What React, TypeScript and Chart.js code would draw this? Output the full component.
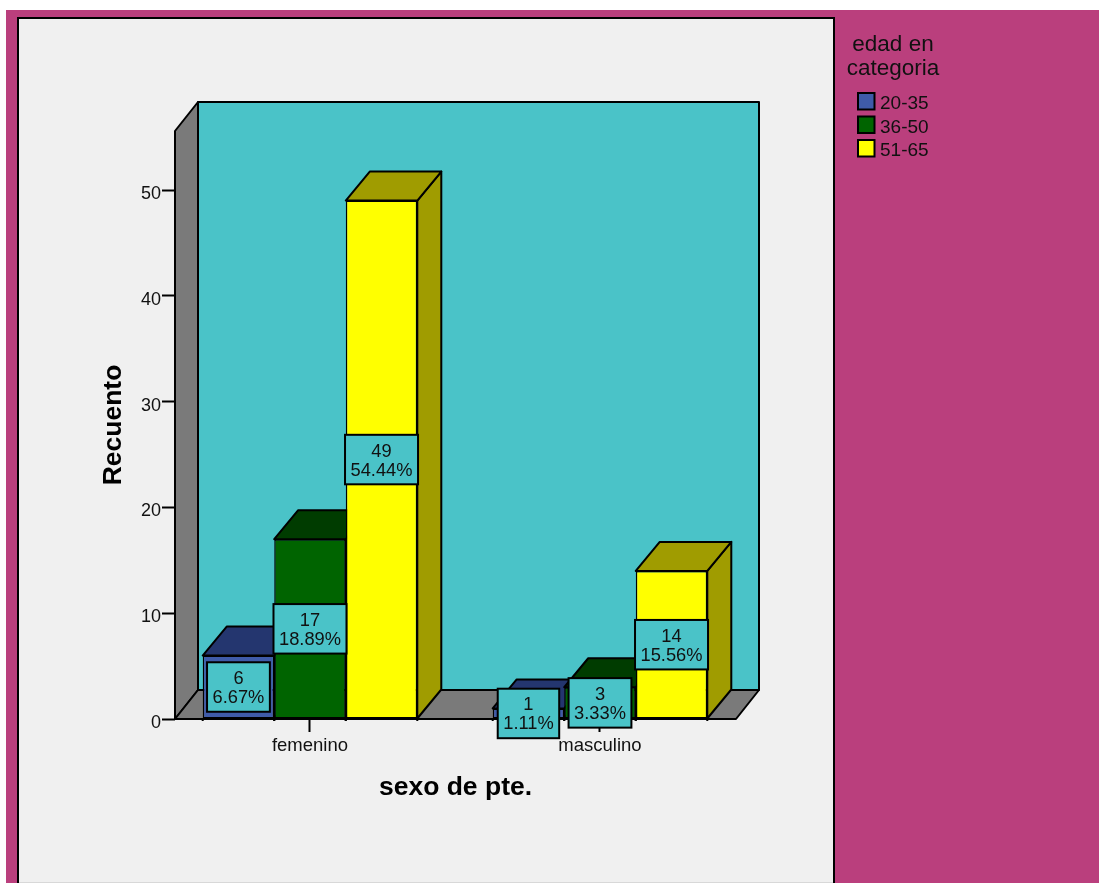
import React, { useEffect, useRef } from "react";
import { Chart, registerables } from "chart.js";

Chart.register(...registerables);

const WIDTH = 1099;
const HEIGHT = 883;
const FONT = '"Liberation Sans", Arial, sans-serif';

const categories = ["femenino", "masculino"];
const edad2035 = [6, 1];
const edad3650 = [17, 3];
const edad5165 = [49, 14];
const seriesLabels = ["20-35", "36-50", "51-65"];
const seriesValues = [edad2035, edad3650, edad5165];
const frontColors = ["#3F5BA9", "#006400", "#FFFF00"];
const shadeColors = ["#24366F", "#003C00", "#A09C00"];
const legendTitle = ["edad en", "categoria"];
const total = 90;

const DEPTH_X = 24;
const DEPTH_Y = 29;
const INK = "#000000";
const TEAL = "#4AC3C8";
const WALL = "#7A7A7A";

function poly(ctx: CanvasRenderingContext2D, pts: number[][], fill: string) {
  ctx.beginPath();
  pts.forEach(([x, y], i) => (i ? ctx.lineTo(x, y) : ctx.moveTo(x, y)));
  ctx.closePath();
  ctx.fillStyle = fill;
  ctx.fill();
  ctx.lineWidth = 2;
  ctx.lineJoin = "round";
  ctx.strokeStyle = INK;
  ctx.stroke();
}

// Page backdrop, inner panel and the legend at the side
const backdrop = {
  id: "backdrop",
  beforeDraw(chart: any) {
    const ctx = chart.ctx as CanvasRenderingContext2D;
    ctx.save();
    ctx.fillStyle = "#FFFFFF";
    ctx.fillRect(0, 0, WIDTH, HEIGHT);
    ctx.fillStyle = "#BA3F7D";
    ctx.fillRect(6, 10, WIDTH - 6, HEIGHT - 10);
    ctx.fillStyle = "#F0F0F0";
    ctx.fillRect(18, 18, 816, HEIGHT - 18);
    ctx.strokeStyle = INK;
    ctx.lineWidth = 2;
    ctx.beginPath();
    ctx.moveTo(18, HEIGHT);
    ctx.lineTo(18, 18);
    ctx.lineTo(834, 18);
    ctx.lineTo(834, HEIGHT);
    ctx.stroke();
    ctx.fillStyle = "#D8D8D8";
    ctx.fillRect(19, HEIGHT - 1, 814, 1);

    ctx.fillStyle = "#111111";
    ctx.textBaseline = "middle";
    ctx.textAlign = "center";
    ctx.font = `22.5px ${FONT}`;
    legendTitle.forEach((line, i) => ctx.fillText(line, 893, 45 + i * 24));
    ctx.textAlign = "left";
    ctx.font = `19px ${FONT}`;
    chart.data.datasets.forEach((ds: any, i: number) => {
      const top = 93 + i * 23.5;
      ctx.fillStyle = ds.backgroundColor;
      ctx.strokeStyle = INK;
      ctx.fillRect(858, top, 16.5, 16.5);
      ctx.strokeRect(858, top, 16.5, 16.5);
      ctx.fillStyle = "#111111";
      ctx.fillText(ds.label, 880, top + 11);
    });
    ctx.restore();
  },
};

// Back wall, side wall and floor of the 3D box, then the bars from left to
// right so that each front face covers the extruded side of its neighbour
const box3d = {
  id: "box3d",
  beforeDatasetsDraw(chart: any) {
    const ctx = chart.ctx as CanvasRenderingContext2D;
    const { left, right, top, bottom } = chart.chartArea;
    ctx.save();
    poly(ctx, [[left + DEPTH_X - 1, top - DEPTH_Y], [right + DEPTH_X - 1, top - DEPTH_Y], [right + DEPTH_X - 1, bottom - DEPTH_Y], [left + DEPTH_X - 1, bottom - DEPTH_Y]], TEAL);
    poly(ctx, [[left, top], [left + DEPTH_X - 1, top - DEPTH_Y], [left + DEPTH_X - 1, bottom - DEPTH_Y], [left, bottom]], WALL);
    poly(ctx, [[left, bottom], [left + DEPTH_X - 1, bottom - DEPTH_Y], [right + DEPTH_X - 1, bottom - DEPTH_Y], [right, bottom]], WALL);
    chart.data.datasets.forEach((_: any, di: number) => {
      chart.getDatasetMeta(di).data.forEach((bar: any) => {
        const l = bar.x - bar.width / 2;
        const r = bar.x + bar.width / 2;
        poly(ctx, [[r, bar.y], [r + DEPTH_X, bar.y - DEPTH_Y], [r + DEPTH_X, bar.base - DEPTH_Y], [r, bar.base]], shadeColors[di]);
        poly(ctx, [[l, bar.y], [l + DEPTH_X, bar.y - DEPTH_Y], [r + DEPTH_X, bar.y - DEPTH_Y], [r, bar.y]], shadeColors[di]);
        bar.draw(ctx);
      });
    });
    ctx.restore();
  },
  // The loop above has already painted every bar
  beforeDatasetDraw() {
    return false;
  },
  afterDatasetsDraw(chart: any) {
    const ctx = chart.ctx as CanvasRenderingContext2D;
    const { bottom } = chart.chartArea;
    ctx.save();
    // Baseline and small marks at the bar edges
    ctx.strokeStyle = INK;
    ctx.lineWidth = 2;
    ctx.beginPath();
    ctx.moveTo(chart.chartArea.left, bottom);
    ctx.lineTo(chart.chartArea.right, bottom);
    ctx.stroke();
    chart.data.datasets.forEach((_: any, di: number) => {
      chart.getDatasetMeta(di).data.forEach((bar: any) => {
        [bar.x - bar.width / 2, bar.x + bar.width / 2].forEach((x: number) => {
          ctx.beginPath();
          ctx.moveTo(x, bottom);
          ctx.lineTo(x, bottom + 2);
          ctx.stroke();
        });
      });
    });
    // Count and percentage boxes centred on each bar
    ctx.font = `18.3px ${FONT}`;
    ctx.textAlign = "center";
    ctx.textBaseline = "middle";
    chart.data.datasets.forEach((ds: any, di: number) => {
      chart.getDatasetMeta(di).data.forEach((bar: any, i: number) => {
        const value = ds.data[i].y;
        const pct = `${((value / total) * 100).toFixed(2)}%`;
        const w = ctx.measureText(pct).width + 11;
        const h = 49.5;
        const cy = (bar.y + bar.base) / 2;
        ctx.fillStyle = TEAL;
        ctx.fillRect(bar.x - w / 2, cy - h / 2, w, h);
        ctx.lineWidth = 2;
        ctx.strokeRect(bar.x - w / 2, cy - h / 2, w, h);
        ctx.fillStyle = "#111111";
        ctx.fillText(String(value), bar.x, cy - 8);
        ctx.fillText(pct, bar.x, cy + 11);
      });
    });
    ctx.restore();
  },
};

export default function App() {
  const canvasRef = useRef<HTMLCanvasElement>(null);

  useEffect(() => {
    const chart = new Chart(canvasRef.current as HTMLCanvasElement, {
      type: "bar",
      data: {
        datasets: seriesLabels.map((label, s) => ({
          label,
          data: seriesValues[s].map((y, x) => ({ x, y })),
          backgroundColor: frontColors[s],
          borderColor: INK,
          borderWidth: 1.5,
          borderSkipped: false,
          inflateAmount: 0,
          barPercentage: 1,
          categoryPercentage: 0.74,
        })),
      },
      options: {
        animation: false,
        responsive: false,
        devicePixelRatio: 1,
        layout: { padding: { left: 0, top: 131, right: 363, bottom: 0 } },
        plugins: { legend: { display: false }, tooltip: { enabled: false } },
        scales: {
          x: {
            type: "linear",
            offset: false,
            min: -0.4655,
            max: 1.469,
            afterBuildTicks: (scale: any) => {
              scale.ticks = categories.map((_, i) => ({ value: i }));
            },
            afterFit: (scale: any) => {
              scale.height = 164;
            },
            grid: { offset: false, drawOnChartArea: false, tickLength: 13, tickColor: INK, tickWidth: 2 },
            border: { display: false },
            ticks: {
              color: "#111111",
              font: { family: FONT, size: 18.5 },
              padding: 3,
              maxRotation: 0,
              autoSkip: false,
              callback: (v: any) => categories[v as number],
            },
            title: {
              display: true,
              text: "sexo de pte.",
              color: INK,
              font: { family: FONT, size: 26.5, weight: "bold" },
              padding: { top: 0, bottom: 79 },
            },
          },
          y: {
            min: 0,
            max: 55.58,
            afterFit: (scale: any) => {
              scale.width = 175;
            },
            grid: { drawOnChartArea: false, tickLength: 13, tickColor: INK, tickWidth: 2 },
            border: { display: false },
            ticks: {
              stepSize: 10,
              includeBounds: false,
              color: "#111111",
              font: { family: FONT, size: 18 },
              padding: 1,
              labelOffset: 4,
            },
            title: {
              display: true,
              text: "Recuento",
              color: INK,
              font: { family: FONT, size: 26.5, weight: "bold" },
              padding: { top: 98, bottom: 0 },
            },
          },
        },
      },
      plugins: [backdrop, box3d],
    } as any);
    return () => chart.destroy();
  }, []);

  return (
    <canvas
      ref={canvasRef}
      width={WIDTH}
      height={HEIGHT}
      style={{ position: "absolute", left: 0, top: 0, display: "block" }}
    />
  );
}
